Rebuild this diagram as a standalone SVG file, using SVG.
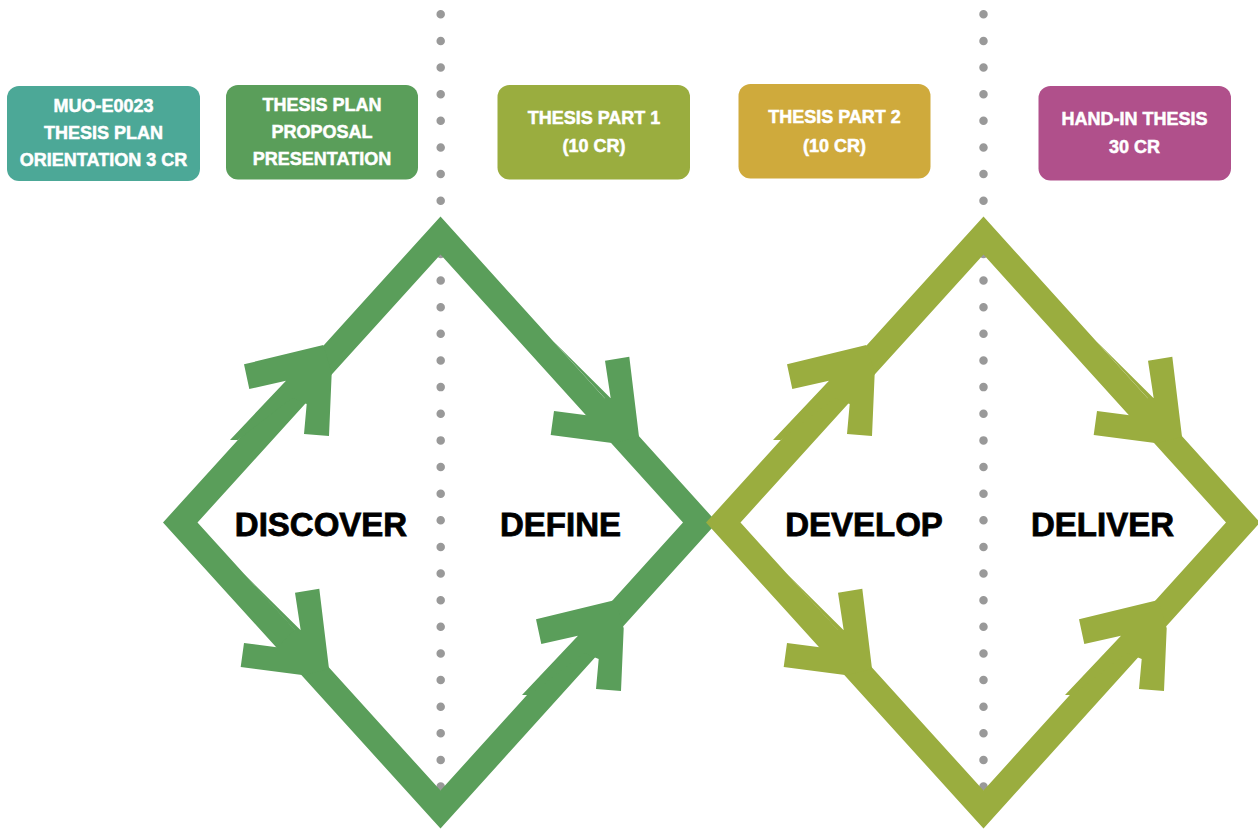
<svg xmlns="http://www.w3.org/2000/svg" xmlns:xlink="http://www.w3.org/1999/xlink" width="1258" height="830" viewBox="0 0 1258 830">
  <style>
    .box-text{font-family:"Liberation Sans",Arial,Helvetica,sans-serif;font-weight:bold;font-size:18px;fill:#ffffff;stroke:#ffffff;stroke-width:0.5;text-anchor:middle}
    .phase{font-family:"Liberation Sans",Arial,Helvetica,sans-serif;font-weight:bold;font-size:33px;fill:#000000;stroke:#000000;stroke-width:0.8;text-anchor:middle}
    .dots{stroke:#999999;stroke-width:8.5;stroke-linecap:round;stroke-dasharray:0 26.63;fill:none}
    .green{fill:#5A9E5A}
    .olive{fill:#9AAD3F}
  </style>
  <defs>
    <polygon id="arP" points="-76,5.3 3.3,-14 11.7,14.3 9,77 -16,75 -13.3,45 -28,39 -82.2,81 -90,81 -34,21.7 -70.7,30"/>
    <polygon id="arQ" points="-21,-72.3 3.3,-76.3 13,3.7 -12,10.3 -75.3,2 -72,-22 -39.3,-17.7 -21.2,-34.7 -72.7,-91.7 -15.3,-34.7"/>
  </defs>
  <rect width="1258" height="830" fill="#ffffff"/>

  <g id="dividers">
    <line class="dots" x1="440.7" y1="14.3" x2="440.7" y2="815"/>
    <line class="dots" x1="983.5" y1="14.3" x2="983.5" y2="815"/>
  </g>

  <g id="connectors">
    <g id="diamond-green" class="green">
      <path fill-rule="evenodd" d="M440.5,216.5 L717,522.5 L440.5,828.5 L163,522.5 Z M440.5,254.5 L197.5,522.5 L440.5,790.5 L683,522.5 Z"/>
      <use xlink:href="#arP" href="#arP" transform="translate(320,359)"/>
      <use xlink:href="#arQ" href="#arQ" transform="translate(626,433)"/>
      <use xlink:href="#arQ" href="#arQ" transform="translate(316,665)"/>
      <use xlink:href="#arP" href="#arP" transform="translate(612,614)"/>
    </g>
    <g id="diamond-olive" class="olive">
      <path fill-rule="evenodd" d="M983.5,216.5 L1260,522.5 L983.5,828.5 L706,522.5 Z M983.5,254.5 L740.5,522.5 L983.5,790.5 L1226,522.5 Z"/>
      <use xlink:href="#arP" href="#arP" transform="translate(863,359)"/>
      <use xlink:href="#arQ" href="#arQ" transform="translate(1169,433)"/>
      <use xlink:href="#arQ" href="#arQ" transform="translate(859,665)"/>
      <use xlink:href="#arP" href="#arP" transform="translate(1155,614)"/>
    </g>
  </g>

  <g id="box-muo">
    <rect x="7" y="86" width="193" height="95" rx="12" fill="#4CA897"/>
    <text class="box-text" x="103.5" y="111.5">MUO-E0023</text>
    <text class="box-text" x="103.5" y="138.5">THESIS PLAN</text>
    <text class="box-text" x="103.5" y="165.5">ORIENTATION 3 CR</text>
  </g>
  <g id="box-proposal">
    <rect x="226" y="85" width="192" height="94.5" rx="12" fill="#5A9E5A"/>
    <text class="box-text" x="322" y="110.5">THESIS PLAN</text>
    <text class="box-text" x="322" y="137.5">PROPOSAL</text>
    <text class="box-text" x="322" y="164.5">PRESENTATION</text>
  </g>
  <g id="box-part1">
    <rect x="497.5" y="85" width="192.5" height="94.5" rx="12" fill="#9AAD3F"/>
    <text class="box-text" x="594" y="123.5">THESIS PART 1</text>
    <text class="box-text" x="594" y="152">(10 CR)</text>
  </g>
  <g id="box-part2">
    <rect x="738.5" y="84" width="192" height="94.5" rx="12" fill="#CFAA3C"/>
    <text class="box-text" x="834.5" y="123">THESIS PART 2</text>
    <text class="box-text" x="834.5" y="151.5">(10 CR)</text>
  </g>
  <g id="box-handin">
    <rect x="1038.5" y="86" width="192.5" height="94.5" rx="12" fill="#B0508B"/>
    <text class="box-text" x="1134.5" y="125">HAND-IN THESIS</text>
    <text class="box-text" x="1134.5" y="153">30 CR</text>
  </g>

  <g id="label-discover"><text class="phase" x="321" y="536">DISCOVER</text></g>
  <g id="label-define"><text class="phase" x="560.5" y="536">DEFINE</text></g>
  <g id="label-develop"><text class="phase" x="864" y="536">DEVELOP</text></g>
  <g id="label-deliver"><text class="phase" x="1102.5" y="536">DELIVER</text></g>
</svg>
